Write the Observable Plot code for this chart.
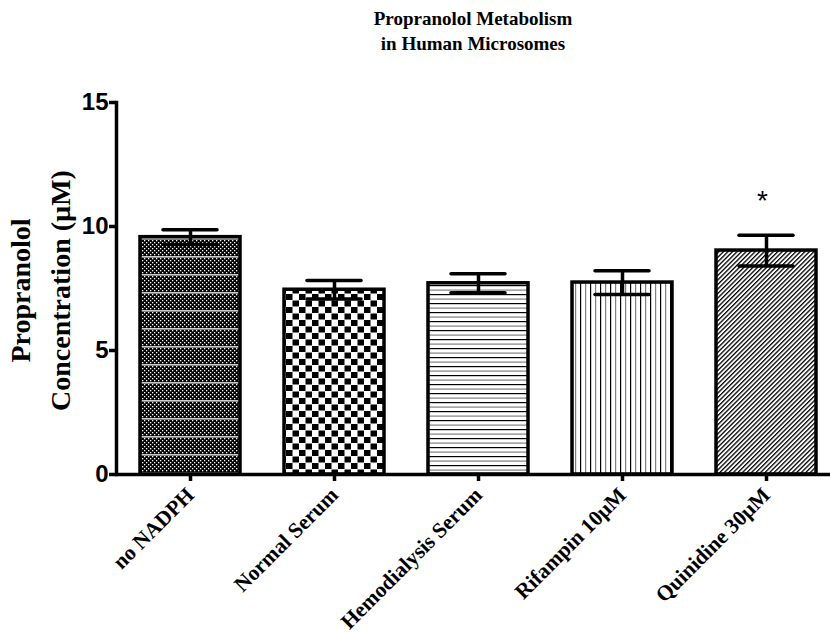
<!DOCTYPE html>
<html>
<head>
<meta charset="utf-8">
<script src="https://cdn.jsdelivr.net/npm/d3@7"></script>
<script src="https://cdn.jsdelivr.net/npm/@observablehq/plot@0.6"></script>
<style>
  html, body { margin: 0; padding: 0; background: white; }
  #title { width: 714px; margin-left: 116px; height: 60px; box-sizing: border-box; padding-top: 6px;
    text-align: center; font-family: "Liberation Serif", "Times New Roman", serif; font-weight: bold;
    font-size: 19px; line-height: 25px; color: black; }
  #chart svg { display: block; }
</style>
</head>
<body>
<div id="title">Propranolol Metabolism<br>in Human Microsomes</div>
<div id="chart"></div>
<script>
const categories = ["no NADPH", "Normal Serum", "Hemodialysis Serum", "Rifampin 10µM", "Quinidine 30µM"];
const means = [9.57, 7.45, 7.71, 7.74, 9.03];
const sems = [0.30, 0.37, 0.38, 0.48, 0.62];
const patterns = ["url(#pat-dots)", "url(#pat-check)", "url(#pat-horiz)", "url(#pat-vert)", "url(#pat-diag)"];
const significance = ["", "", "", "", "*"];
const yTicks = [0, 5, 10, 15];
const yLabel = "Propranolol\nConcentration (µM)";

const data = categories.map((c, i) => ({cat: c, mean: means[i], sem: sems[i], fill: patterns[i], sig: significance[i]}));

const chart = Plot.plot({
  width: 830,
  height: 576,
  marginLeft: 116,
  marginRight: 0,
  marginTop: 42,
  marginBottom: 162,
  style: {fontFamily: "Liberation Serif", background: "white", color: "black", overflow: "visible"},
  x: {domain: categories, range: [118.4, 837.6], paddingInner: 0.3056, paddingOuter: 0.15, label: null},
  y: {domain: [0, 15], label: null},
  color: {type: "identity"},
  marks: [
    Plot.barY(data, {x: "cat", y: "mean", fill: "fill", stroke: "black", strokeWidth: 3.5}),
    Plot.ruleX(data, {x: "cat", y1: d => d.mean - d.sem, y2: d => d.mean + d.sem, stroke: "black", strokeWidth: 3.5}),
    Plot.tickY(data, {x: "cat", y: d => d.mean + d.sem, stroke: "black", strokeWidth: 3.5, inset: 23, strokeLinecap: "round"}),
    Plot.tickY(data, {x: "cat", y: d => d.mean - d.sem, stroke: "black", strokeWidth: 3.5, inset: 23, strokeLinecap: "round"}),
    Plot.text(data, {x: "cat", y: d => d.mean + d.sem, text: "sig", dy: -34, dx: -4, fontSize: 28, fontFamily: "Liberation Sans", fill: "black"}),
    Plot.axisY({ticks: yTicks, tickSize: 7, strokeWidth: 3.5, tickPadding: 1, fontSize: 24, fontWeight: "bold", fontFamily: "Liberation Sans", label: null}),
    Plot.axisX({tickSize: 7, strokeWidth: 3.5, tickRotate: -45, tickPadding: 10, fontSize: 21.5, fontWeight: "bold", fontFamily: "Liberation Serif", label: null}),
    Plot.ruleY([0], {stroke: "black", strokeWidth: 3.5}),
    Plot.frame({anchor: "left", stroke: "black", strokeWidth: 3.5}),
    Plot.text([yLabel], {text: d => d, frameAnchor: "left", rotate: -90, dx: -79, dy: 2, fontSize: 28, fontWeight: "bold",
      fontFamily: "Liberation Serif", lineHeight: 1.4, textAnchor: "middle", lineAnchor: "middle", fill: "black"})
  ]
});

// make tick labels bold regardless of how the axis passes text styles
d3.select(chart).selectAll('g[aria-label="y-axis tick label"], g[aria-label="x-axis tick label"]')
  .attr("font-weight", "bold").style("font-weight", "bold");
d3.select(chart).selectAll('g[aria-label="y-axis tick label"]').style("font-family", "Liberation Sans");

const defs = document.createElementNS("http://www.w3.org/2000/svg", "defs");
defs.innerHTML = `
  <pattern id="pat-dots" patternUnits="userSpaceOnUse" width="4" height="18">
    <rect width="4" height="18" fill="black"/>
    <g fill="white">
      <rect x="0" y="0" width="1.3" height="1.3"/><rect x="2" y="2" width="1.3" height="1.3"/>
      <rect x="0" y="4" width="1.3" height="1.3"/><rect x="2" y="6" width="1.3" height="1.3"/>
      <rect x="0" y="8" width="1.3" height="1.3"/><rect x="2" y="10" width="1.3" height="1.3"/>
      <rect x="0" y="12" width="1.3" height="1.3"/><rect x="2" y="14" width="1.3" height="1.3"/>
    </g>
    <rect x="0" y="16.2" width="4" height="1.3" fill="white"/>
  </pattern>
  <pattern id="pat-check" patternUnits="userSpaceOnUse" width="13" height="13">
    <rect width="13" height="13" fill="white"/>
    <rect x="0" y="0" width="6.5" height="6" fill="black"/>
    <rect x="6.5" y="6.5" width="6.5" height="6" fill="black"/>
  </pattern>
  <pattern id="pat-horiz" patternUnits="userSpaceOnUse" width="10" height="9">
    <rect width="10" height="9" fill="white"/>
    <rect x="0" y="0" width="10" height="1.2" fill="black"/>
    <rect x="0" y="4.5" width="10" height="1.2" fill="#808080"/>
  </pattern>
  <pattern id="pat-vert" patternUnits="userSpaceOnUse" width="10" height="10">
    <rect width="10" height="10" fill="white"/>
    <rect x="0" y="0" width="1.2" height="10" fill="black"/>
    <rect x="5" y="0" width="1.2" height="10" fill="#808080"/>
  </pattern>
  <pattern id="pat-diag" patternUnits="userSpaceOnUse" width="3.2" height="10" patternTransform="rotate(45)">
    <rect width="3.2" height="10" fill="white"/>
    <rect x="0" y="0" width="1.3" height="10" fill="black"/>
  </pattern>`;
chart.insertBefore(defs, chart.firstChild);
document.getElementById("chart").appendChild(chart);
</script>
</body>
</html>
